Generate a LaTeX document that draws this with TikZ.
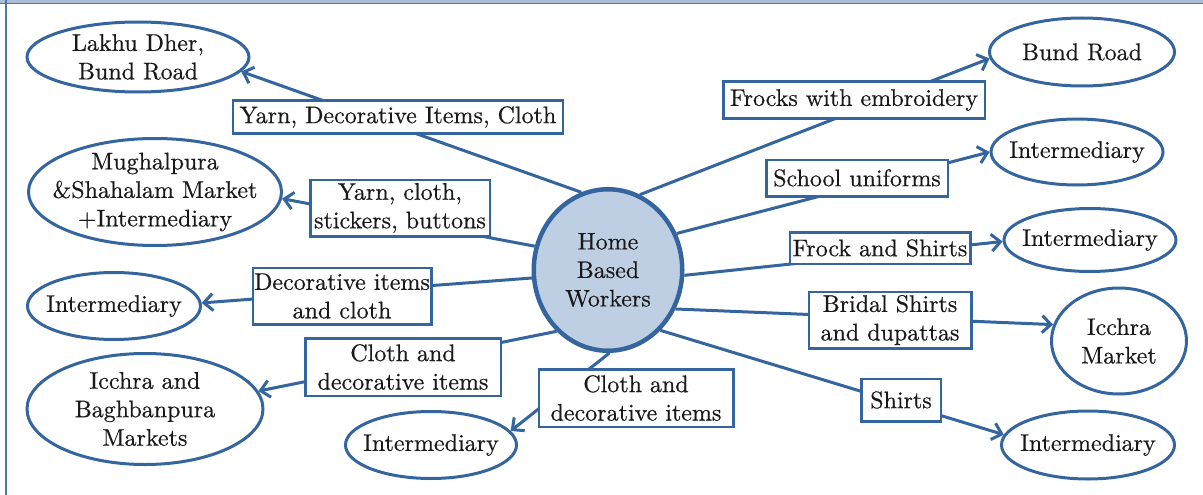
\documentclass[tikz,border=0pt]{standalone}
\usepackage{fontspec}
\setmainfont{lmroman10-regular.otf}[FakeBold=0.5]
\usetikzlibrary{shapes.geometric,arrows.meta}
\definecolor{dblue}{RGB}{52,101,158}
\definecolor{lfill}{RGB}{191,207,227}
\definecolor{txt}{RGB}{25,25,25}
\definecolor{band}{RGB}{170,190,214}
\definecolor{edge}{RGB}{79,120,176}
\begin{document}
\begin{tikzpicture}[x=1pt,y=-1pt,
  every node/.style={font=\fontsize{24}{28.5}\selectfont, text=txt},
  place/.style={ellipse, draw=dblue, line width=3pt, inner sep=0pt},
  tag/.style={rectangle, draw=dblue, line width=2.5pt, fill=white, inner sep=0pt, align=center},
  link/.style={draw=dblue, line width=3pt, -{Straight Barb[length=9pt,width=17pt]}}]
\useasboundingbox (0,0) rectangle (1203,495);
% frame
\fill[band] (0,0) rectangle (1203,3);
\draw[edge, line width=1pt] (0,3.3) -- (1203,3.3);
\draw[edge, line width=1.6pt] (5.8,0) -- (5.8,495);
% centre
\node[ellipse, draw=dblue, fill=lfill, line width=4.5pt, minimum width=148.5pt, minimum height=161.5pt, inner sep=0pt,
  label={[align=center]center:Home\\Based\\Workers}] (hbw) at (608,270) {};
% places
\node[place, minimum width=222pt, minimum height=70pt, label={[align=center]center:Lakhu Dher,\\Bund Road}] (lakhu) at (138,57) {};
\node[place, minimum width=253pt, minimum height=107pt, label={[align=center]center:Mughalpura\\\&Shahalam Market\\+Intermediary}] (mugh) at (155,192) {};
\node[place, minimum width=173pt, minimum height=67pt, label={center:Intermediary}] (int3) at (114,306) {};
\node[place, minimum width=236pt, minimum height=111pt, label={[align=center]center:Icchra and\\Baghbanpura\\Markets}] (icb) at (145,409) {};
\node[place, minimum width=171pt, minimum height=67pt, label={center:Intermediary}] (int5) at (431,445) {};
\node[place, minimum width=185pt, minimum height=68pt, label={center:Bund Road}] (bund) at (1082,52) {};
\node[place, minimum width=172pt, minimum height=66pt, label={center:Intermediary}] (int7) at (1077,152) {};
\node[place, minimum width=172pt, minimum height=63pt, label={center:Intermediary}] (int8) at (1090,240) {};
\node[place, minimum width=135pt, minimum height=106pt, label={[align=center]center:Icchra\\Market}] (icm) at (1119,341) {};
\node[place, minimum width=173pt, minimum height=68pt, label={center:Intermediary}] (int10) at (1088,445) {};
% connectors
\draw[link] (hbw.109) -- (lakhu.-8);
\draw[link] (hbw.162) -- (mugh.-3);
\draw[link] (hbw.186) -- (int3.2);
\draw[link] (hbw.230) -- (icb.9);
\draw[link] (hbw.271) -- (int5.10);
\draw[link] (hbw.67) -- (bund.184);
\draw[link] (hbw.28) -- (int7.180);
\draw[link] (hbw.-4) -- (int8.181);
\draw[link] (hbw.-30) -- (icm.166);
\draw[link] (hbw.-49) -- (int10.173);
% labels on connectors
\node[tag, minimum width=330pt, minimum height=32.5pt] (tA) at (398,117) {Yarn, Decorative Items, Cloth};
\node[tag, minimum width=179.5pt, minimum height=56.5pt] (tB) at (400,208) {Yarn, cloth,\\stickers, buttons};
\node[tag, minimum width=178.5pt, minimum height=56.5pt] (tC) at (342,296) {Decorative items\\and cloth};
\node[tag, minimum width=195.5pt, minimum height=57.5pt] (tD) at (403,367) {Cloth and\\decorative items};
\node[tag, minimum width=194.5pt, minimum height=57.5pt] (tE) at (636,398) {Cloth and\\decorative items};
\node[tag, minimum width=261.5pt, minimum height=36.5pt] (tF) at (854,100) {Frocks with embroidery};
\node[tag, minimum width=181.5pt, minimum height=36.5pt] (tG) at (857,178) {School uniforms};
\node[tag, minimum width=180.5pt, minimum height=31.5pt] (tH) at (880,248) {Frock and Shirts};
\node[tag, minimum width=162.5pt, minimum height=56.5pt] (tI) at (890,320) {Bridal Shirts\\and dupattas};
\node[tag, minimum width=79.5pt, minimum height=42.5pt] (tJ) at (901,400) {Shirts};
\end{tikzpicture}
\end{document}
